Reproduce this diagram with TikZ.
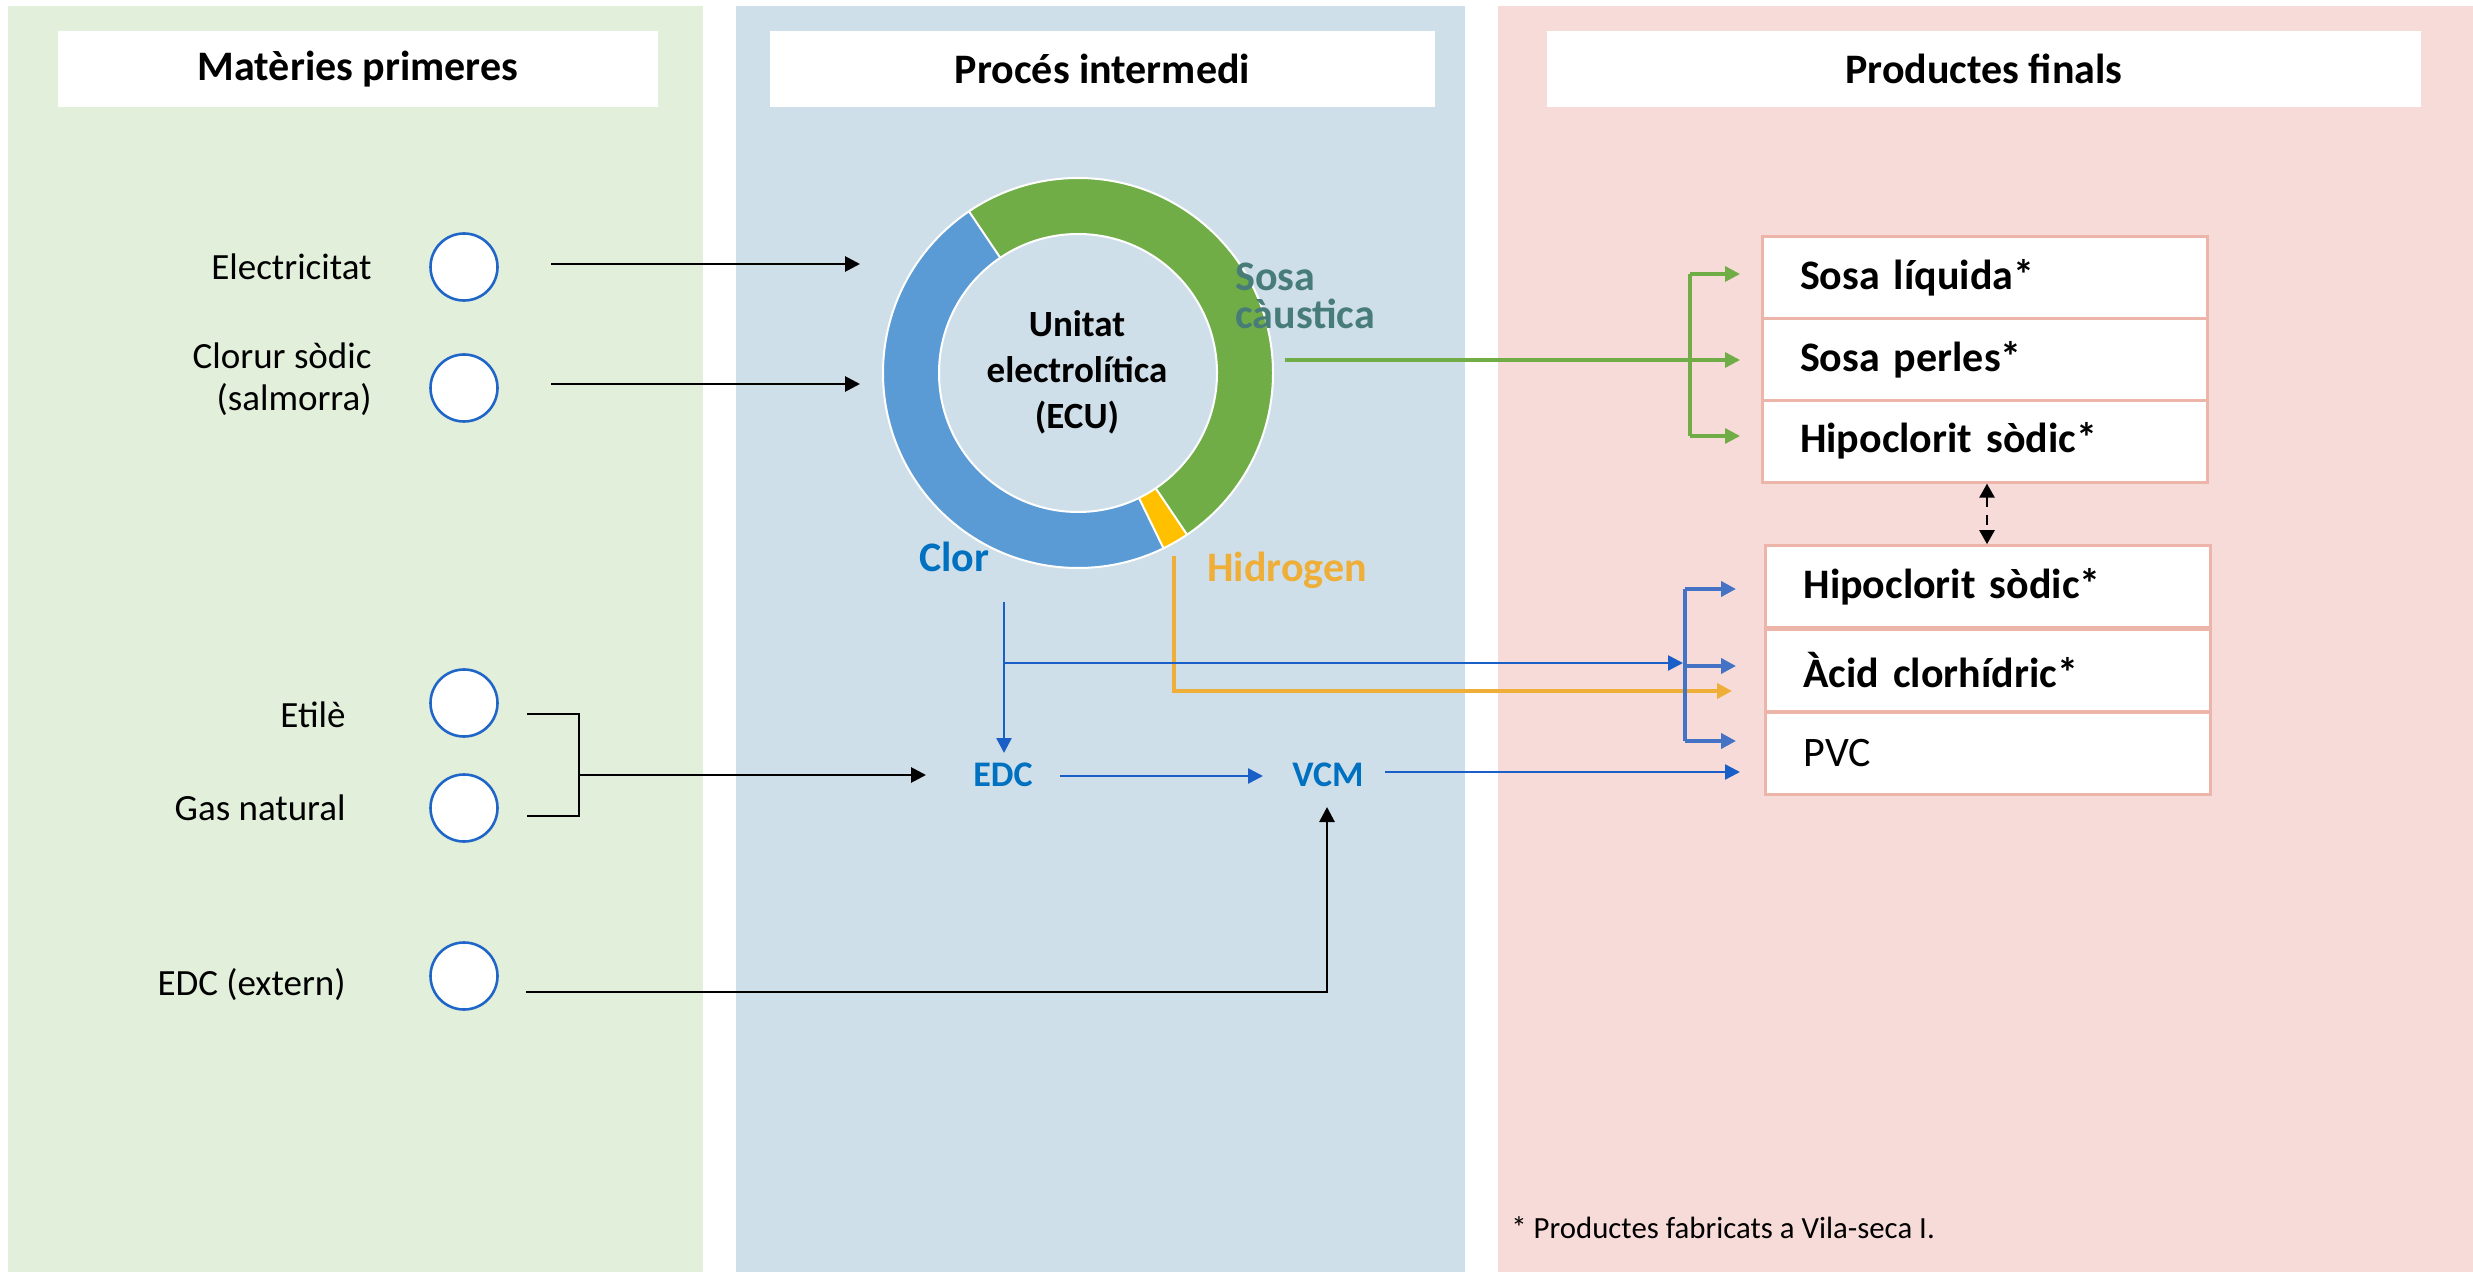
\documentclass[tikz,border=0pt]{standalone}
\usepackage{fontspec}
\setmainfont{Carlito}
\usetikzlibrary{arrows.meta}
\definecolor{bggreen}{HTML}{E2EFDA}
\definecolor{bgblue}{HTML}{CFDFE9}
\definecolor{bgpink}{HTML}{F7DBD8}
\definecolor{ringgreen}{HTML}{70AD47}
\definecolor{ringblue}{HTML}{5B9BD5}
\definecolor{ringyellow}{HTML}{FFC000}
\definecolor{txtblue}{HTML}{0070C0}
\definecolor{txtteal}{HTML}{487C78}
\definecolor{hydro}{HTML}{EEAE38}
\definecolor{lineblue}{HTML}{1A5FC8}
\definecolor{branchblue}{HTML}{4472C4}
\definecolor{circblue}{HTML}{1F66C8}
\definecolor{boxpink}{HTML}{EDB4A9}
\tikzset{
  header/.style={fill=white, inner sep=0pt, minimum height=38pt, font=\fontsize{21}{25}\selectfont\bfseries},
  srcnode/.style={circle, draw=circblue, fill=white, line width=1.3pt, minimum size=33.5pt, inner sep=0pt},
  lbl/.style={anchor=east, inner sep=0pt, align=right, font=\fontsize{18.5}{21}\selectfont},
  prodrow/.style={draw=boxpink, line width=1.5pt, fill=white, minimum height=41pt, text width=184.5pt, inner xsep=19pt, inner ysep=0pt, align=left, font=\fontsize{21}{25}\selectfont\bfseries},
  flowtxt/.style={inner sep=0pt, font=\fontsize{21}{19}\selectfont\bfseries},
  midtxt/.style={inner sep=0pt, text=txtblue, font=\fontsize{18}{21}\selectfont\bfseries},
  tip/.style={-{Triangle[length=7.5pt,width=7.5pt]}},
  blk/.style={draw=black, line width=1.4pt},
  dbl/.style={draw=lineblue, line width=1.25pt},
  brb/.style={draw=branchblue, line width=2pt},
  org/.style={draw=hydro, line width=2pt},
  grn/.style={draw=ringgreen, line width=1.6pt},
  dsh/.style={draw=black, line width=1.2pt, dash pattern=on 5pt off 4pt, {Triangle[length=7pt,width=7.5pt]}-{Triangle[length=7pt,width=7.5pt]}},
  seg/.style={draw=white, line width=1pt}
}
\begin{document}
\begin{tikzpicture}[x=0.5pt,y=-0.5pt]
\useasboundingbox (0,0) rectangle (2473,1272);
\fill[white] (0,0) rectangle (2473,1272);
% panels
\fill[bggreen] (8,6) rectangle (703,1272);
\fill[bgblue] (736,6) rectangle (1465,1272);
\fill[bgpink] (1498,6) rectangle (2473,1272);
% headers
\node[header, minimum width=300pt] (h1) at (358,69) {Matèries primeres};
\node[header, minimum width=332.5pt] (h2) at (1102.5,69) {Procés intermedi};
\node[header, minimum width=437pt] (h3) at (1984,69) {Productes finals};

% raw materials
\node[srcnode] (c1) at (464,267) {};
\node[srcnode] (c2) at (464,388) {};
\node[srcnode] (c3) at (464,703) {};
\node[srcnode] (c4) at (464,808) {};
\node[srcnode] (c5) at (464,976) {};
\node[lbl] (lelec) at (372,267) {Electricitat};
\node[lbl] (lclor) at (372,379) {Clorur sòdic\\(salmorra)};
\node[lbl] (letil) at (346,715) {Etilè};
\node[lbl] (lgas) at (346,808) {Gas natural};
\node[lbl] (ledc) at (346,985) {EDC (extern)};

% donut
\begin{scope}[shift={(1078,373)}]
  \fill[ringgreen] (236:195) arc[start angle=236, end angle=416, radius=195] -- (416:139) arc[start angle=416, end angle=236, radius=139] -- cycle;
  \fill[ringblue] (64:195) arc[start angle=64, end angle=236, radius=195] -- (236:139) arc[start angle=236, end angle=64, radius=139] -- cycle;
  \fill[ringyellow] (56:195) arc[start angle=56, end angle=64, radius=195] -- (64:139) arc[start angle=64, end angle=56, radius=139] -- cycle;
  \draw[seg] (0,0) circle[radius=195];
  \draw[seg] (0,0) circle[radius=139];
  \draw[seg] (236:139) -- (236:195);
  \draw[seg] (64:139) -- (64:195);
  \draw[seg] (56:139) -- (56:195);
\end{scope}
\node[inner sep=0pt, align=center, font=\fontsize{18.5}{23}\selectfont\bfseries] (ecu) at (1077,372) {Unitat\\electrolítica\\(ECU)};
\node[flowtxt, anchor=west, align=left, text=txtteal] (sosa) at (1235,296) {Sosa\\càustica};
\node[flowtxt, anchor=west, text=txtblue] (clor) at (919,557) {Clor};
\node[flowtxt, anchor=west, text=hydro] (hid) at (1207,570) {Hidrogen};
\node[midtxt] (edc) at (1003,775) {EDC};
\node[midtxt] (vcm) at (1328,775) {VCM};

% products
\node[prodrow] (p1) at (1984.5,277.5) {Sosa líquida*};
\node[prodrow] (p2) at (1984.5,359.3) {Sosa perles*};
\node[prodrow] (p3) at (1984.5,441.1) {Hipoclorit sòdic*};
\node[prodrow] (q1) at (1988,586.7) {Hipoclorit sòdic*};
\node[prodrow] (q2) at (1988,670) {Àcid clorhídric*};
\node[prodrow, font=\fontsize{21}{25}\selectfont] (q3) at (1988,753.3) {PVC};
\node[anchor=west, inner sep=0pt, font=\fontsize{15.4}{18}\selectfont] (foot) at (1511,1228) {* Productes fabricats a Vila-seca I.};

% coordinates
\coordinate (k1s) at (551,264); \coordinate (k1e) at (860,264);
\coordinate (k2s) at (551,384); \coordinate (k2e) at (860,384);
\coordinate (b1) at (527,714); \coordinate (b2) at (579,714);
\coordinate (b3) at (579,816); \coordinate (b4) at (527,816);
\coordinate (bm) at (579,775); \coordinate (be) at (926,775);
\coordinate (x1) at (526,992); \coordinate (x2) at (1327,992); \coordinate (x3) at (1327,807);
\coordinate (cl1) at (1004,602); \coordinate (cl2) at (1004,753);
\coordinate (cl3) at (1004,663); \coordinate (cl4) at (1683,663);
\coordinate (ev1) at (1060,776); \coordinate (ev2) at (1263,776);
\coordinate (vp1) at (1385,772); \coordinate (vp2) at (1740,772);
\coordinate (hy1) at (1174,556); \coordinate (hy2) at (1174,691); \coordinate (hy3) at (1732,691);
\coordinate (br1) at (1685,589); \coordinate (br2) at (1685,666); \coordinate (br3) at (1685,741);
\coordinate (bt1) at (1736,589); \coordinate (bt2) at (1736,666); \coordinate (bt3) at (1736,741);
\coordinate (g1) at (1285,360); \coordinate (g2) at (1740,360);
\coordinate (gv1) at (1690,274); \coordinate (gv3) at (1690,436);
\coordinate (gt1) at (1740,274); \coordinate (gt3) at (1740,436);
\coordinate (dd) at (1987,500);

% black connectors
\draw[blk, tip] (k1s) -- (k1e);
\draw[blk, tip] (k2s) -- (k2e);
\draw[blk] (b1) -- (b2) -- (b3) -- (b4);
\draw[blk, tip] (bm) -- (be);
\draw[blk, tip] (x1) -- (x2) -- (x3);

% blue / orange connectors
\draw[org, tip] (hy1) -- (hy2) -- (hy3);
\draw[dbl, tip] (cl1) -- (cl2);
\draw[dbl, tip] (cl3) -- (cl4);
\draw[dbl, tip] (ev1) -- (ev2);
\draw[dbl, tip] (vp1) -- (vp2);
\draw[brb] (br1) -- (br3);
\draw[brb, tip] (br1) -- (bt1);
\draw[brb, tip] (br2) -- (bt2);
\draw[brb, tip] (br3) -- (bt3);

% green connectors
\draw[grn, tip] (g1) -- (g2);
\draw[grn] (gv1) -- (gv3);
\draw[grn, tip] (gv1) -- (gt1);
\draw[grn, tip] (gv3) -- (gt3);

% dashed link
\draw[dsh] (p3.south -| dd) -- (q1.north -| dd);
\end{tikzpicture}
\end{document}
